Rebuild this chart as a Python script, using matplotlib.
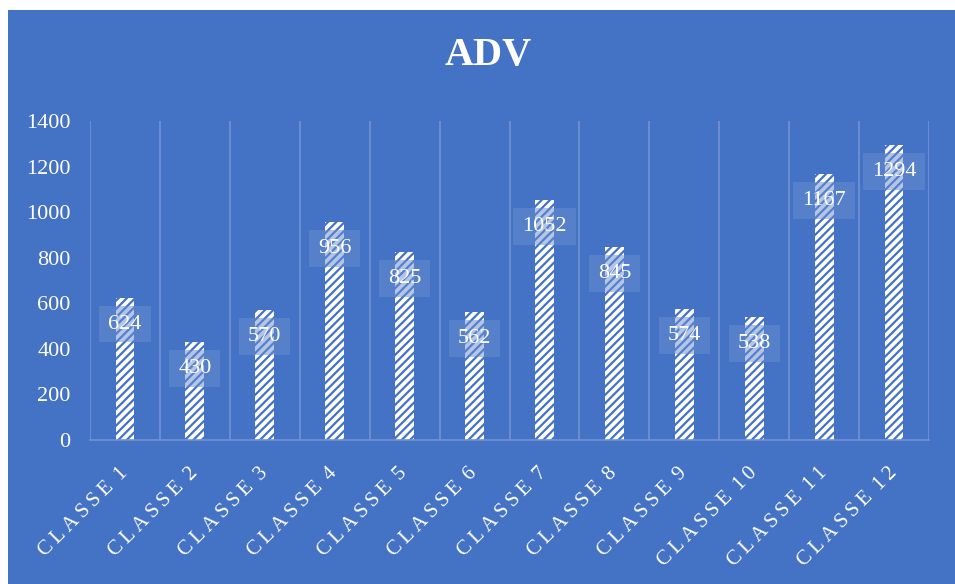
import numpy as np
import matplotlib
matplotlib.use('Agg')
import matplotlib.pyplot as plt
from matplotlib.patches import Rectangle

plt.rcParams['font.family'] = ['Liberation Serif', 'DejaVu Serif']
plt.rcParams['hatch.linewidth'] = 1.6

classes = ['CLASSE 1', 'CLASSE 2', 'CLASSE 3', 'CLASSE 4', 'CLASSE 5', 'CLASSE 6',
           'CLASSE 7', 'CLASSE 8', 'CLASSE 9', 'CLASSE 10', 'CLASSE 11', 'CLASSE 12']
adv = [624, 430, 570, 956, 825, 562, 1052, 845, 574, 538, 1167, 1294]
yticks = [0, 200, 400, 600, 800, 1000, 1200, 1400]

bg = '#4472C4'
gridCol = '#7393D2'


def spaced(s):
    # thin spaces between letters, a wider gap between words
    return '\u2009 '.join('\u2009'.join(w) for w in s.split(' '))


f = plt.figure(figsize=(9.55, 5.84), dpi=100)
f.patch.set_facecolor('white')
# blue panel with a thin white margin on the left and top
f.patches.append(Rectangle((8/955, 0), 1, 1 - 10/584, transform=f.transFigure,
                           facecolor=bg, edgecolor='none', zorder=-10))

ax = f.add_axes([90/955, 1 - 440/584, 839/955, 319/584])
ax.set_facecolor('none')

x = np.arange(len(adv))
ax.bar(x, adv, width=0.27, color='white', edgecolor=bg, hatch='////',
       linewidth=0, zorder=2)

for xi, v in zip(x, adv):
    ax.text(xi, v - 115, str(v), ha='center', va='center', fontsize=16,
            color='white', zorder=4,
            bbox=dict(boxstyle='square,pad=0.4', facecolor='#6A8FD3',
                      edgecolor='none', alpha=0.5))

ax.set_xlim(-0.5, len(adv) - 0.5)
ax.set_ylim(0, 1400)
ax.set_yticks(yticks)
ax.set_yticklabels([str(t) for t in yticks], fontsize=16, color='white')
ax.tick_params(axis='y', length=0, pad=14)

ax.set_xticks(x)
ax.set_xticklabels([spaced(c) for c in classes], fontsize=15,
                   color='white', rotation=45, ha='right', va='center',
                   rotation_mode='anchor')
ax.tick_params(axis='x', length=0, pad=22)

# vertical separators between categories
ax.set_xticks(np.arange(-0.5, len(adv), 1), minor=True)
ax.tick_params(axis='x', which='minor', length=0)
ax.grid(axis='x', which='minor', color=gridCol, linewidth=1.2, zorder=1)
ax.grid(axis='x', which='major', visible=False)

for s in ['left', 'right', 'top']:
    ax.spines[s].set_visible(False)
ax.spines['bottom'].set_color(gridCol)
ax.spines['bottom'].set_linewidth(1.2)

f.text(488/955, 1 - 55/584, 'ADV', ha='center', va='center', fontsize=29,
       fontweight='bold', color='white')

f.savefig('out.png', dpi=100)
